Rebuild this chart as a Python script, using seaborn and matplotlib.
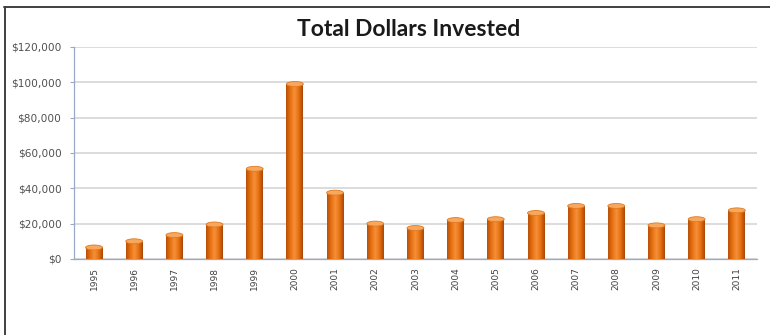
import numpy as np
import pandas as pd
import matplotlib
matplotlib.use("Agg")
import matplotlib.pyplot as plt
from matplotlib.patches import Ellipse
from matplotlib.lines import Line2D
from matplotlib.colors import LinearSegmentedColormap
from matplotlib.ticker import FuncFormatter
import seaborn as sns

# Annual totals invested (USD)
years = ["1995", "1996", "1997", "1998", "1999", "2000", "2001", "2002", "2003",
         "2004", "2005", "2006", "2007", "2008", "2009", "2010", "2011"]
invested = [6500, 10000, 13500, 19500, 51000, 99000, 37500, 20000, 17500,
            22000, 22500, 26000, 30000, 30000, 19000, 22500, 27500]
y_ticks = [0, 20000, 40000, 60000, 80000, 100000, 120000]
title_text = "Total Dollars Invested"

df = pd.DataFrame({"year": years, "invested": invested})

sns.set_theme(style="white")
plt.rcParams["font.family"] = ["DejaVu Sans"]

fig = plt.figure(figsize=(7.7, 3.35), dpi=100)
fig.patch.set_facecolor("white")
ax = fig.add_axes([0.096, 0.227, 0.887, 0.633])

sns.barplot(data=df, x="year", y="invested", color="#E46C0A", width=0.42,
            saturation=1, ax=ax, zorder=3)

# cylinder shading: horizontal gradient clipped to each bar plus a light top cap
shade = LinearSegmentedColormap.from_list(
    "cyl", ["#B8500A", "#E8700F", "#F5913A", "#E8700F", "#A8480A"])
grad = np.linspace(0, 1, 64).reshape(1, -1)
ax.set_ylim(0, 120000)
ax.set_xlim(-0.5, len(years) - 0.5)
for p in list(ax.patches):
    x0, y0 = p.get_x(), p.get_y()
    w, h = p.get_width(), p.get_height()
    p.set_edgecolor("none")
    im = ax.imshow(grad, cmap=shade, aspect="auto",
                   extent=(x0, x0 + w, y0, y0 + h), zorder=4)
    im.set_clip_path(p)
    cap = Ellipse((x0 + w / 2, y0 + h), w, 2800, facecolor="#F7A85E",
                  edgecolor="#E07A20", linewidth=0.6, zorder=5)
    ax.add_patch(cap)
ax.set_xlim(-0.5, len(years) - 0.5)
ax.set_ylim(0, 120000)

ax.set_yticks(y_ticks)
ax.yaxis.set_major_formatter(FuncFormatter(lambda v, _: f"${v:,.0f}"))
ax.yaxis.grid(True, color="#DCDCDC", linewidth=1.4, zorder=0)
ax.set_axisbelow(True)

ax.set_xlabel("")
ax.set_ylabel("")
ax.tick_params(axis="x", which="major", length=0, labelsize=6.5,
               labelcolor="#404040", rotation=90, pad=6)
ax.set_xticks(np.arange(-0.5, len(years), 1), minor=True)
ax.tick_params(axis="x", which="minor", length=3, color="#9AAAC4", width=0.8)
ax.tick_params(axis="y", length=3, color="#9AAAC4", width=0.8, labelsize=7.6,
               labelcolor="#505050", pad=6, left=True)

for side in ["top", "right"]:
    ax.spines[side].set_visible(False)
for side in ["left", "bottom"]:
    ax.spines[side].set_color("#9AAAC4")
    ax.spines[side].set_linewidth(0.9)

fig.text(0.531, 0.912, title_text, ha="center", va="center",
         fontsize=16.5, fontweight="bold", color="#1A1A1A",
         family=["Lato", "DejaVu Sans"])

# chart frame along the top and left edges
fig.add_artist(Line2D([0.005, 1.0], [0.979, 0.979], color="#404040",
                      linewidth=1.4, transform=fig.transFigure))
fig.add_artist(Line2D([0.006, 0.006], [0.0, 0.979], color="#404040",
                      linewidth=1.4, transform=fig.transFigure))

fig.savefig("out.png", dpi=100, facecolor="white")
